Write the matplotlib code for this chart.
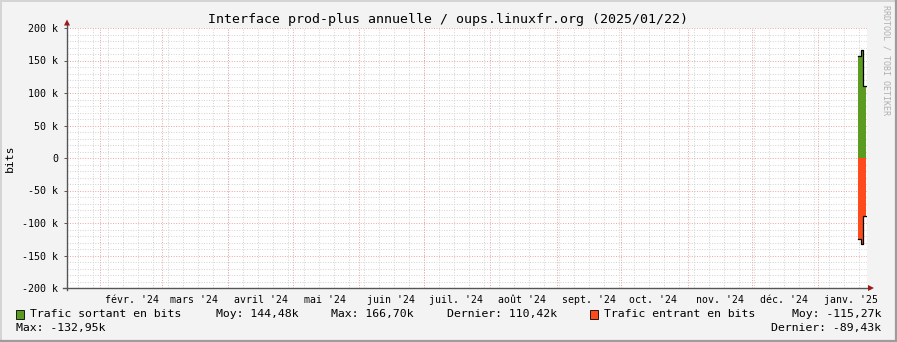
import numpy as np
import pandas as pd
import matplotlib
matplotlib.use("Agg")
import matplotlib.pyplot as plt
from matplotlib.lines import Line2D
from matplotlib.patches import Polygon, Rectangle

# data (kbit/s), one value per interval start
dates = pd.to_datetime(["2025-01-19 16:00", "2025-01-20 16:00", "2025-01-21 15:00"])
last_sample_end = pd.Timestamp("2025-01-23 06:00")
sortant = [157.0, 166.7, 110.42]
entrant = [-124.0, -132.95, -89.43]

month_labels = ["févr. '24", "mars '24", "avril '24", "mai '24", "juin '24", "juil. '24",
                "août '24", "sept. '24", "oct. '24", "nov. '24", "déc. '24", "janv. '25"]
yticks = [200, 150, 100, 50, 0, -50, -100, -150, -200]
ytick_labels = ["200 k", "150 k", "100 k", "50 k", "0", "-50 k", "-100 k", "-150 k", "-200 k"]

# legend stats
sortant_stats = {"moy": 144.48, "max": 166.70, "dernier": 110.42}
entrant_stats = {"moy": -115.27, "max": -132.95, "dernier": -89.43}

title = "Interface prod-plus annuelle / oups.linuxfr.org (2025/01/22)"

green = "#5b9b20"
red = "#ff4a1c"
W, H = 897, 342
mono = "DejaVu Sans Mono"


def px(x, y):
    return (x / W, 1 - y / H)


def fmt(v):
    return ("%.2fk" % v).replace(".", ",")


fig = plt.figure(figsize=(W / 100, H / 100), dpi=100, facecolor="#f3f3f3")

# frame
fig.add_artist(Line2D([0, 1], [1 - 0.5 / H, 1 - 0.5 / H], color="#d4d4d4", lw=1.4))
fig.add_artist(Line2D([0.5 / W, 0.5 / W], [0, 1], color="#d4d4d4", lw=1.4))
fig.add_artist(Line2D([0, 1], [1.2 / H, 1.2 / H], color="#9c9c9c", lw=1.6))
fig.add_artist(Line2D([1 - 1.2 / W, 1 - 1.2 / W], [0, 1], color="#9c9c9c", lw=1.6))

x0, x1, ytop, ybot = 67, 867, 28, 288
ax = fig.add_axes([x0 / W, 1 - ybot / H, (x1 - x0) / W, (ybot - ytop) / H])
ax.set_facecolor("white")
start = pd.Timestamp("2024-01-16 18:00")
end = pd.Timestamp("2025-01-23 16:00")
ax.set_xlim(start, end)
ax.set_ylim(-200, 200)
for s in ax.spines.values():
    s.set_visible(False)

# grid
gkw = dict(lw=0.7, ls=(0, (1, 1.6)))
for v in range(-190, 200, 10):
    if v % 50:
        ax.axhline(v, color="#d2d2d2", zorder=1, **gkw)
for d in pd.date_range("2024-01-22", end, freq="W-MON"):
    ax.axvline(d, color="#d2d2d2", zorder=1, **gkw)
for v in yticks:
    ax.axhline(v, color="#eba4a4", zorder=2, **gkw)
for d in pd.date_range("2024-02-01", "2025-01-01", freq="MS"):
    ax.axvline(d, color="#eba4a4", zorder=2, **gkw)

# data
xe = list(dates) + [last_sample_end]
ys = list(sortant) + [sortant[-1]]
ye = list(entrant) + [entrant[-1]]
ax.fill_between(xe, 0, ys, step="post", color=green, lw=0, zorder=3)
ax.fill_between(xe, 0, ye, step="post", color=red, lw=0, zorder=3)
ax.plot(xe, ys, drawstyle="steps-post", color="black", lw=0.9, zorder=4)
ax.plot(xe, ye, drawstyle="steps-post", color="black", lw=0.9, zorder=4)

# ticks
ax.set_yticks(yticks)
ax.set_yticklabels(ytick_labels, family=mono, fontsize=7.2)
ax.tick_params(axis="y", length=2.2, width=0.7, color="#555555", pad=4)
mid = [d + pd.Timedelta(days=15) for d in pd.date_range("2024-02-01", "2025-01-01", freq="MS")]
ax.set_xticks(mid)
ax.set_xticklabels(month_labels, family=mono, fontsize=7.1)
ax.tick_params(axis="x", length=0, pad=5)

# axes with arrows
ax.add_line(Line2D([0, 0], [-0.008, 1.02], transform=ax.transAxes, color="#555555",
                   lw=1.0, clip_on=False))
ax.add_line(Line2D([-0.005, 1.004], [0, 0], transform=ax.transAxes, color="#555555",
                   lw=1.0, clip_on=False))
fig.add_artist(Polygon([px(64, 25.5), px(70, 25.5), px(67, 19.5)], closed=True,
                       color="#9b1a1a", lw=0))
fig.add_artist(Polygon([px(868, 285), px(868, 291), px(874, 288)], closed=True,
                       color="#9b1a1a", lw=0))

# texts
fig.text(*px(448, 19), title, family=mono, fontsize=9.5, ha="center", va="center")
fig.text(*px(10, 158), "bits", family=mono, fontsize=8.2, rotation=90, ha="center", va="center")
fig.text(*px(886, 60), "RRDTOOL / TOBI OETIKER", family=mono, fontsize=6, color="#b0b0b0",
         rotation=270, ha="center", va="center")

ly1, ly2 = 314, 327.5
fig.add_artist(Rectangle(px(15.5, 318.5), 8.5 / W, 8.5 / H, facecolor=green,
                         edgecolor="black", lw=0.6))
fig.text(*px(30, ly1), "Trafic sortant en bits", family=mono, fontsize=8.25, va="center")
fig.text(*px(216, ly1), "Moy: " + fmt(sortant_stats["moy"]), family=mono, fontsize=8.25, va="center")
fig.text(*px(331, ly1), "Max: " + fmt(sortant_stats["max"]), family=mono, fontsize=8.25, va="center")
fig.text(*px(447, ly1), "Dernier: " + fmt(sortant_stats["dernier"]), family=mono, fontsize=8.25,
         va="center")
fig.add_artist(Rectangle(px(589.5, 318.5), 8.5 / W, 8.5 / H, facecolor=red,
                         edgecolor="black", lw=0.6))
fig.text(*px(604, ly1), "Trafic entrant en bits", family=mono, fontsize=8.25, va="center")
fig.text(*px(881, ly1), "Moy: " + fmt(entrant_stats["moy"]), family=mono, fontsize=8.25,
         va="center", ha="right")
fig.text(*px(16, ly2), "Max: " + fmt(entrant_stats["max"]), family=mono, fontsize=8.25, va="center")
fig.text(*px(881, ly2), "Dernier: " + fmt(entrant_stats["dernier"]), family=mono, fontsize=8.25,
         va="center", ha="right")

fig.savefig("out.png", dpi=100, facecolor=fig.get_facecolor())
